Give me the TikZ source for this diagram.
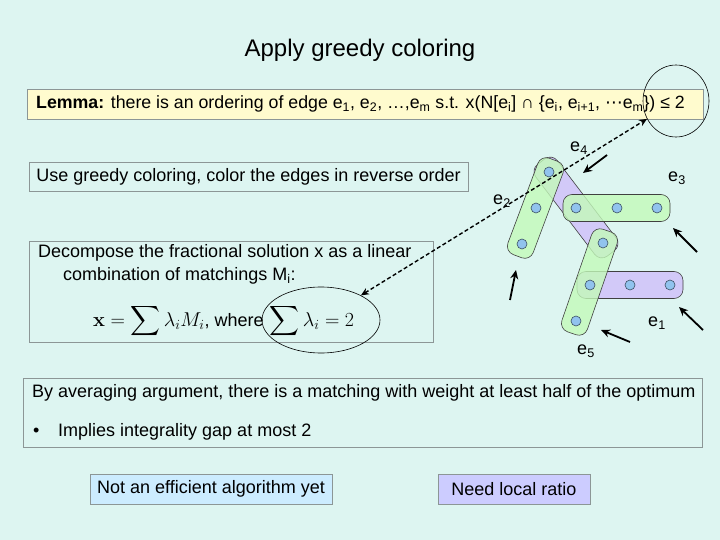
\RequirePackage{fix-cm}
\documentclass[tikz,border=0pt]{standalone}
\usepackage{amsmath}
\usepackage[no-math]{fontspec}
\setmainfont{Liberation Sans}
\newfontfamily\dejavu{DejaVu Sans}
\usetikzlibrary{arrows.meta,calc,shapes.geometric}
\definecolor{bgc}{RGB}{221,245,241}
\definecolor{lemy}{RGB}{255,251,206}
\definecolor{boxg}{RGB}{140,150,150}
\definecolor{hgreen}{RGB}{195,250,185}
\definecolor{hpurp}{RGB}{208,190,250}
\definecolor{vblue}{RGB}{145,195,238}
\definecolor{vline}{RGB}{60,80,100}
\definecolor{bluebox}{RGB}{204,236,255}
\definecolor{lavbox}{RGB}{204,204,255}
\newcommand{\hyedge}[3]{%
  \path ($(#1)!-13pt!(#2)$) coordinate (hp) ($(#2)!-13pt!(#1)$) coordinate (hq);
  \draw[hyper,fill=#3] ($(hp)!13.5pt!90:(hq)$) -- ($(hq)!13.5pt!-90:(hp)$) -- ($(hq)!13.5pt!90:(hp)$) -- ($(hp)!13.5pt!-90:(hq)$) -- cycle;
}
\newcommand{\mymath}[1]{{\fontsize{20}{24}\selectfont$\displaystyle #1$}}
\begin{document}
\begin{tikzpicture}[x=1pt,y=-1pt,
  txt/.style={font=\fontsize{18}{21}\selectfont, inner sep=0pt},
  gbox/.style={draw=boxg, line width=0.8pt, inner sep=0pt},
  hyper/.style={draw=black!75, line width=0.6pt, fill opacity=0.8, rounded corners=9pt},
  vtx/.style={circle, draw=vline, fill=vblue, line width=0.6pt, minimum size=10pt, inner sep=0pt},
  bigarrow/.style={line width=1.8pt, -{Stealth[length=9pt,width=8pt]}},
  lbl/.style={font=\fontsize{18}{21}\selectfont, inner sep=0pt}]
\useasboundingbox[fill=bgc] (0,0) rectangle (720,540);

% title
\node[font=\fontsize{24}{28}\selectfont, inner sep=0pt] (title) at (360,50) {Apply greedy coloring};

% lemma box
\node[gbox, fill=lemy, minimum width=676pt, minimum height=30pt] (lemma) at (365,104) {};
\node[font=\fontsize{17.75}{21}\selectfont, inner sep=0pt, anchor=west] (lemmatxt) at (36,104)
 {\textbf{Lemma:} there is an ordering of edge e\textsubscript{1}, e\textsubscript{2}, \ldots,e\textsubscript{m} s.t. x(N[e\textsubscript{i}] ∩ \{e\textsubscript{i}, e\textsubscript{i+1}, {\dejavu ⋯}e\textsubscript{m}\}) ≤ 2};

% greedy box
\node[gbox, minimum width=439pt, minimum height=29pt, txt] (greedy) at (248.5,176.5)
 {Use greedy coloring, color the edges in reverse order};

% decompose box
\node[gbox, minimum width=404pt, minimum height=101pt] (decomp) at (231,291.5) {};
\node[txt, anchor=west] (d1) at (38,253) {Decompose the fractional solution x as a linear};
\node[txt, anchor=west] (d2) at (63,276) {combination of matchings M\textsubscript{i}:};
\node[txt, anchor=base west] (d3) at (93,326) {\mymath{\mathbf{x}=\sum\lambda_i M_i}, where\hspace{6pt}\mymath{\sum\lambda_i=2}};
\node[ellipse, draw=black, line width=0.6pt, minimum width=118pt, minimum height=66pt, inner sep=0pt] (sumell) at (321,320) {};

% top circle
\node[ellipse, draw=black, line width=0.6pt, minimum width=66pt, minimum height=72pt, inner sep=0pt] (topcirc) at (676,101) {};

% graph vertices
\coordinate (A) at (549,172);
\coordinate (B) at (536,208);
\coordinate (C) at (522,244);
\coordinate (D) at (576,208);
\coordinate (E) at (617,208);
\coordinate (F) at (657,208);
\coordinate (G) at (603,243);
\coordinate (H) at (590,285);
\coordinate (I) at (630,285);
\coordinate (J) at (670,285);
\coordinate (K) at (576,321);

\hyedge{A}{G}{hpurp}
\hyedge{H}{J}{hpurp}
\hyedge{A}{C}{hgreen}
\hyedge{D}{F}{hgreen}
\hyedge{G}{K}{hgreen}

\foreach \v in {A,B,C,D,E,F,G,H,I,J,K} {\node[vtx] (v\v) at (\v) {};}

% edge labels
\node[lbl] (l4) at (579,148) {e\textsubscript{4}};
\node[lbl] (l3) at (677,178) {e\textsubscript{3}};
\node[lbl] (l2) at (502,201) {e\textsubscript{2}};
\node[lbl] (l1) at (657,323) {e\textsubscript{1}};
\node[lbl] (l5) at (586,351) {e\textsubscript{5}};

% dashed double arrow
\draw[line width=1.4pt, dash pattern=on 4pt off 2.5pt, {Stealth[length=8pt,width=7pt]}-{Stealth[length=8pt,width=7pt]}] (sumell) -- (topcirc);

% solid arrows
\coordinate (s1) at (607,155); \coordinate (t1) at (583,173);
\coordinate (s2) at (697,252); \coordinate (t2) at (673,228);
\coordinate (s3) at (510,300); \coordinate (t3) at (516,270);
\coordinate (s4) at (630,342); \coordinate (t4) at (601,330);
\coordinate (s5) at (703,330); \coordinate (t5) at (679,307);
\foreach \i in {1,...,5} {\draw[bigarrow] (s\i) -- (t\i);}

% bottom box
\node[gbox, minimum width=679pt, minimum height=69pt] (bottom) at (362.5,412.5) {};
\node[txt, anchor=west] (b1) at (32,393) {By averaging argument, there is a matching with weight at least half of the optimum};
\node[txt, anchor=west] (bul) at (33,432) {•};
\node[txt, anchor=west] (b2) at (58,432) {Implies integrality gap at most 2};

% small boxes
\node[gbox, fill=bluebox, minimum width=242pt, minimum height=30pt, txt] (noteff) at (211,489) {Not an efficient algorithm yet};
\node[gbox, fill=lavbox, minimum width=152pt, minimum height=30pt, txt] (needlr) at (514,489) {Need local ratio};
\end{tikzpicture}
\end{document}
